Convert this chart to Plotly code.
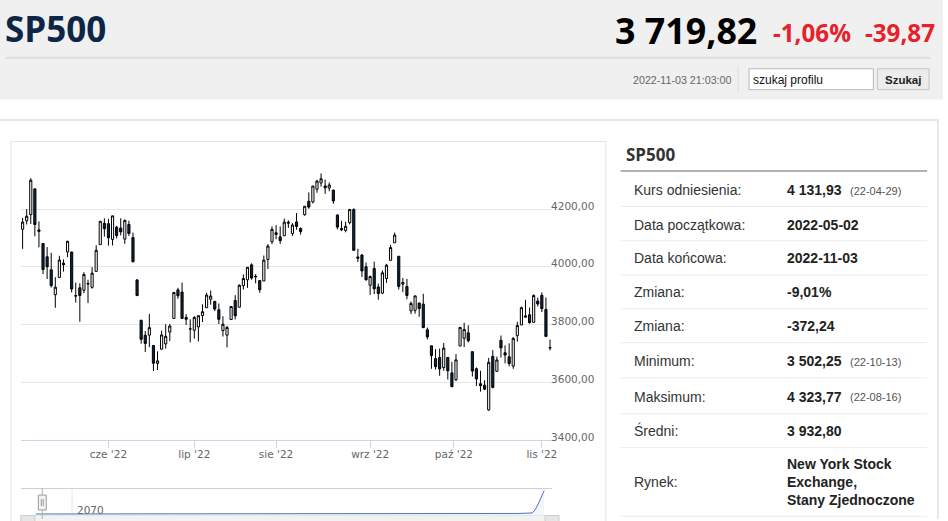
import pandas as pd
import plotly.graph_objects as go

W, H = 948, 521

# trading calendar of the chart (Data początkowa .. Data końcowa)
holidays = ['2022-05-30', '2022-06-20', '2022-07-04', '2022-09-05']
dates = pd.bdate_range('2022-05-02', '2022-11-03', freq='C', holidays=holidays)

# daily OHLC, May .. Nov 2022
open_ = [4130.61, 4159.78, 4181.18, 4270.43, 4128.17, 4081.27, 4035.18, 3990.08, 3903.95, 3963.90,
         4013.02, 4052.00, 4051.98, 3899.00, 3927.76, 3919.42, 3942.94, 3929.59, 3984.60, 4077.43, 4151.09,
         4149.78, 4095.41, 4137.57, 4134.72, 4096.47, 4147.12, 4101.65, 3955.00, 3815.00, 3763.52,
         3764.05, 3728.18, 3665.90, 3715.31, 3733.89, 3774.71, 3821.75, 3920.76, 3913.00, 3825.09, 3785.99,
         3781.00, 3792.61, 3831.98, 3858.85, 3888.26, 3880.94, 3851.95, 3779.67, 3763.99, 3818.00,
         3883.79, 3860.73, 3935.32, 3955.47, 4007.36, 3965.72, 3953.22, 3951.43, 4026.13, 4087.33,
         4112.38, 4104.21, 4107.96, 4154.85, 4115.87, 4155.93, 4133.11, 4181.02, 4227.40, 4225.02,
         4269.37, 4290.46, 4280.40, 4273.13, 4266.31, 4180.00, 4133.09, 4126.55, 4153.26, 4198.74,
         4034.58, 4041.25, 4000.67,
         3936.73, 3994.66, 3930.89, 3909.43, 3959.94, 4022.94, 4083.67, 4037.12, 3940.73, 3932.41,
         3848.00, 3849.91, 3875.23, 3871.40, 3782.36, 3727.14, 3682.72, 3686.44, 3651.94, 3687.01, 3633.48,
         3609.78, 3726.46, 3753.25, 3771.97, 3706.74, 3647.51, 3595.86, 3590.83, 3505.00, 3690.41,
         3638.65, 3746.26, 3703.11, 3689.05, 3657.10, 3762.01, 3799.44, 3825.97, 3834.69, 3808.26, 3881.85,
         3901.79, 3852.90, 3721.00]
high = [4169.81, 4200.10, 4307.66, 4270.43, 4157.69, 4081.27, 4068.82, 4049.09, 3964.80, 4038.88,
        4026.17, 4090.72, 4051.98, 3945.96, 3943.42, 3981.88, 3955.68, 3999.33, 4075.14, 4158.49, 4168.34,
        4166.54, 4177.51, 4142.67, 4168.78, 4164.86, 4160.14, 4119.10, 3958.00, 3818.00, 3778.18,
        3837.56, 3728.18, 3707.71, 3779.65, 3801.79, 3802.58, 3913.65, 3927.72, 3945.86, 3836.50, 3818.99,
        3829.82, 3832.19, 3870.91, 3910.63, 3918.50, 3880.94, 3873.41, 3829.44, 3796.41, 3863.62,
        3902.44, 3939.81, 3974.13, 3999.29, 4012.44, 3975.30, 3953.22, 4039.56, 4078.95, 4140.15,
        4144.95, 4140.47, 4167.66, 4161.29, 4151.58, 4186.62, 4137.30, 4211.03, 4257.91, 4280.47,
        4301.79, 4323.77, 4302.18, 4292.53, 4266.31, 4182.00, 4159.77, 4156.56, 4200.54, 4203.04,
        4062.99, 4044.98, 4015.37,
        3970.23, 4018.43, 3942.55, 3987.89, 4010.50, 4076.81, 4119.28, 4037.12, 3961.94, 3959.14,
        3880.95, 3900.45, 3876.01, 3907.07, 3790.28, 3727.14, 3715.67, 3717.53, 3736.74, 3687.01, 3671.44,
        3698.35, 3791.92, 3806.91, 3797.93, 3706.74, 3652.17, 3640.66, 3608.34, 3685.41, 3712.00,
        3689.73, 3762.79, 3728.58, 3736.00, 3757.89, 3810.74, 3862.85, 3886.15, 3859.95, 3905.42, 3893.73,
        3911.79, 3894.44, 3748.50]
low = [4062.51, 4147.08, 4148.91, 4106.01, 4067.91, 3975.48, 3958.17, 3928.82, 3858.87, 3963.90,
       3983.99, 4033.93, 3911.91, 3876.58, 3810.32, 3909.04, 3875.13, 3925.03, 3984.60, 4077.43, 4104.88,
       4073.85, 4074.37, 4098.67, 4109.18, 4080.19, 4107.20, 4017.17, 3900.16, 3734.30, 3705.68,
       3722.30, 3639.77, 3643.27, 3715.31, 3717.69, 3743.52, 3821.75, 3889.66, 3820.14, 3799.02, 3738.67,
       3752.10, 3742.06, 3809.37, 3858.85, 3869.34, 3847.22, 3802.36, 3759.07, 3721.56, 3817.18,
       3818.63, 3860.73, 3922.03, 3927.64, 3955.77, 3943.46, 3910.74, 3951.43, 3992.97, 4079.22,
       4096.02, 4079.81, 4107.96, 4135.42, 4107.31, 4128.97, 4112.09, 4177.26, 4201.41, 4219.78,
       4256.90, 4277.77, 4253.08, 4261.98, 4218.70, 4129.86, 4124.03, 4119.97, 4147.59, 4057.66,
       4017.42, 3965.21, 3954.53,
       3903.65, 3906.21, 3886.75, 3906.03, 3944.81, 4022.94, 4083.67, 3921.73, 3912.91, 3888.28,
       3837.08, 3838.50, 3827.54, 3789.49, 3749.45, 3647.47, 3644.76, 3623.29, 3640.61, 3610.40, 3584.13,
       3604.93, 3726.46, 3722.66, 3739.22, 3620.73, 3588.10, 3568.45, 3573.86, 3502.25, 3579.68,
       3638.65, 3686.53, 3666.51, 3656.44, 3647.42, 3741.65, 3799.44, 3824.07, 3803.79, 3808.26, 3863.18,
       3843.80, 3758.68, 3711.00]
close = [4155.38, 4175.48, 4300.17, 4146.87, 4123.34, 3991.24, 4001.05, 3935.18, 3930.08, 4023.89,
         4008.01, 4088.85, 3923.68, 3900.79, 3901.36, 3973.75, 3941.48, 3978.73, 4057.84, 4158.24, 4132.15,
         4101.23, 4176.82, 4108.54, 4121.43, 4160.68, 4115.77, 4017.82, 3900.86, 3749.63, 3735.48,
         3789.99, 3666.77, 3674.84, 3764.79, 3759.89, 3795.73, 3911.74, 3900.11, 3821.55, 3818.83, 3785.38,
         3825.33, 3831.39, 3845.08, 3902.62, 3899.38, 3854.43, 3818.80, 3801.78, 3790.38, 3863.16,
         3830.85, 3936.69, 3959.90, 3998.95, 3961.63, 3966.84, 3921.05, 4023.61, 4072.43, 4130.29,
         4118.63, 4091.19, 4155.17, 4151.94, 4145.19, 4140.06, 4122.47, 4210.24, 4207.27, 4280.15,
         4297.14, 4305.20, 4274.04, 4283.74, 4228.48, 4137.99, 4128.73, 4140.77, 4199.12, 4057.66,
         4030.61, 3986.16, 3955.00,
         3966.85, 3924.26, 3908.19, 3979.87, 4006.18, 4067.36, 4110.41, 3932.69, 3946.01, 3901.35,
         3873.33, 3899.89, 3855.93, 3789.93, 3757.99, 3693.23, 3655.04, 3647.29, 3719.04, 3640.47, 3585.62,
         3678.43, 3790.93, 3783.28, 3744.52, 3639.66, 3612.39, 3588.84, 3577.03, 3669.91, 3583.07,
         3677.95, 3719.98, 3695.16, 3665.78, 3752.75, 3797.34, 3859.11, 3830.60, 3807.30, 3901.06, 3871.98,
         3856.10, 3759.69, 3719.82]

# 1 Oct is a Saturday -> the ordinal axis puts that tick between 30 Sep and 3 Oct
month_ticks = ['2022-06-01', '2022-07-01', '2022-08-01', '2022-09-01', '2022-09-30 12:00', '2022-11-01']
month_labels = ["cze '22", "lip '22", "sie '22", "wrz '22", "paź '22", "lis '22"]
price_ticks = [3400, 3600, 3800, 4000, 4200, 4400]
price_labels = ['3400,00', '3600,00', '3800,00', '4000,00', '4200,00', '']

# navigator (whole history, squeezed)
nav_t = [15, 100, 200, 300, 400, 500, 514, 517, 520, 523, 526]
nav_v = [4, 4, 4.5, 4.5, 5, 6, 8, 20, 42, 68, 94]

# side table
row_labels = ['Kurs odniesienia:', 'Data początkowa:', 'Data końcowa:', 'Zmiana:', 'Zmiana:',
              'Minimum:', 'Maksimum:', 'Średni:', 'Rynek:']
row_values = ['4 131,93', '2022-05-02', '2022-11-03', '-9,01%', '-372,24',
              '3 502,25', '4 323,77', '3 932,80', 'New York Stock<br>Exchange,<br>Stany Zjednoczone']
row_notes = ['(22-04-29)', '', '', '', '', '(22-10-13)', '(22-08-16)', '', '']

last_price = '3 719,82'
change_pct = '-1,06%'
change_abs = '-39,87'
stamp = '2022-11-03 21:03:00'

NAVY = '#0d2646'
RED = '#e8202a'


def px(x):
    return x / W


def py(y):
    return 1 - y / H


def rect(x0, y0, x1, y1, fill='rgba(0,0,0,0)', line=None, width=1):
    return dict(type='rect', xref='paper', yref='paper', layer='below',
                x0=px(x0), x1=px(x1), y0=py(y0), y1=py(y1), fillcolor=fill,
                line=dict(color=line or 'rgba(0,0,0,0)', width=width if line else 0))


def seg(x0, y0, x1, y1, color, width=1, layer='below'):
    return dict(type='line', xref='paper', yref='paper', layer=layer,
                x0=px(x0), x1=px(x1), y0=py(y0), y1=py(y1),
                line=dict(color=color, width=width))


def label(x, y, s, size, color, family='Liberation Sans', weight='normal', anchor='left'):
    return dict(x=px(x), y=py(y), xref='paper', yref='paper', text=s, showarrow=False,
                xanchor=anchor, yanchor='middle', align='left',
                font=dict(family=family, size=size, color=color, weight=weight))


candles = go.Candlestick(
    x=dates, open=open_, high=high, low=low, close=close,
    increasing=dict(fillcolor='#ffffff', line=dict(color='#000000', width=1)),
    decreasing=dict(fillcolor=NAVY, line=dict(color='#000000', width=1)),
    whiskerwidth=0, hoverinfo='skip', showlegend=False,
)

nav = go.Scatter(x=nav_t, y=nav_v, xaxis='x2', yaxis='y2', mode='lines',
                 line=dict(color='#4a76b8', width=1), fill='tozeroy',
                 fillcolor='rgba(51,92,173,0.06)', hoverinfo='skip', showlegend=False)

shapes = [
    # header
    rect(0, 0, W, 100, fill='#f0f0f0'),
    seg(6, 58, 935, 58, '#dddddd', 2),
    seg(742, 66, 742, 93, '#dcdcdc', 1),
    rect(753, 69, 878, 90, fill='#ffffff', line='#b8b8b8'),
    rect(882, 69, 934, 90, fill='#ececec', line='#c6c6c6'),
    # card frame
    seg(0, 120.5, 944, 120.5, '#e8e8e8', 2),
    seg(943, 120, 943, H, '#e8e8e8', 2),
    # chart box
    rect(11, 142, 609, H + 10, fill='#ffffff', line='#e3e3e3'),
    # navigator
    seg(21, 490.5, 555, 490.5, '#cccccc', 1),
    seg(72.5, 491, 72.5, H, '#e6e6e6', 1),
    rect(21, 517.5, 555, H + 5, fill='#f2f2f2', line='#e6e6e6'),
    rect(21, 517.5, 35, H + 5, fill='#e6e6e6', line='#cccccc'),
    rect(548, 517.5, 562, H + 5, fill='#e6e6e6', line='#cccccc'),
    seg(42.5, 490, 42.5, H, '#b0b0b0', 1, layer='above'),
    dict(type='rect', xref='paper', yref='paper', layer='above',
         x0=px(38.5), x1=px(46.5), y0=py(497), y1=py(512),
         fillcolor='#f2f2f2', line=dict(color='#999999', width=1)),
    seg(41.5, 501, 41.5, 508, '#999999', 1, layer='above'),
    seg(43.5, 501, 43.5, 508, '#999999', 1, layer='above'),
    # table
    seg(624, 171.7, 932, 171.7, '#b3b3b3', 2),
]
for y in [207.3, 241.7, 276, 310, 344, 379.3, 415.3, 449.3, 518.3]:
    shapes.append(seg(624, y, 932, y, '#ebebeb', 1))

annotations = [
    label(3, 29, 'SP500', 35, NAVY, family='Open Sans', weight='bold'),
    label(616, 30, last_price, 35.8, '#000000', family='Open Sans', weight='bold'),
    label(775, 32.5, change_pct, 24.2, RED, family='Open Sans', weight='bold'),
    label(868, 32.5, change_abs, 24.2, RED, family='Open Sans', weight='bold'),
    label(634, 80, stamp, 10.7, '#666666'),
    label(755, 80, 'szukaj profilu', 12, '#111111'),
    label(908, 80, 'Szukaj', 11.5, '#222222', weight='bold', anchor='center'),
    label(627, 155, 'SP500', 17, '#333333', family='Open Sans', weight='bold'),
    label(75, 512, '2070', 10.5, '#666666', family='DejaVu Sans'),
]
row_y = [191, 225.7, 259, 293.3, 327, 362.7, 398.3, 432.3, 484.3]
for lab, val, note, y in zip(row_labels, row_values, row_notes, row_y):
    annotations.append(label(635, y, lab, 14, '#333333'))
    annotations.append(label(789, y, val, 14, '#222222', weight='bold'))
    if note:
        annotations.append(label(852, y + 0.5, note, 11, '#555555'))

axis_font = dict(family='DejaVu Sans', size=10.5, color='#666666')

layout = go.Layout(
    width=W, height=H,
    margin=dict(l=0, r=0, t=0, b=0),
    paper_bgcolor='#ffffff', plot_bgcolor='rgba(0,0,0,0)',
    boxgap=0.25,
    xaxis=dict(
        domain=[px(21), px(555)],
        range=['2022-04-29 14:00', '2022-11-03 12:00'],
        rangebreaks=[dict(bounds=['sat', 'mon']), dict(values=holidays)],
        rangeslider=dict(visible=False),
        showgrid=False, zeroline=False,
        showline=True, linecolor='#ccd6eb', linewidth=1,
        ticks='outside', ticklen=7, tickcolor='#ccd6eb',
        tickvals=month_ticks, ticktext=month_labels, tickfont=axis_font,
        ticklabelstandoff=-3,
    ),
    yaxis=dict(
        domain=[py(442), py(152)],
        range=[3400, 4400],
        side='right',
        tickvals=price_ticks, ticktext=price_labels, tickfont=axis_font,
        ticklabelposition='outside top', ticklabelstandoff=-2, ticklabelshift=4,
        showgrid=True, gridcolor='#e6e6e6', gridwidth=1,
        zeroline=False, showline=False, ticks='',
    ),
    xaxis2=dict(domain=[px(21), px(555)], range=[0, 534], anchor='y2',
                visible=False, fixedrange=True),
    yaxis2=dict(domain=[py(517), py(491)], range=[0, 100], anchor='x2',
                visible=False, fixedrange=True),
    shapes=shapes,
    annotations=annotations,
    showlegend=False,
)

fig = go.Figure(data=[candles, nav], layout=layout)
# the page's default 8px body margin would push the figure off the window
fig.write_html("out.html", config={'displayModeBar': False},
               post_script="document.body.style.margin='0';")
